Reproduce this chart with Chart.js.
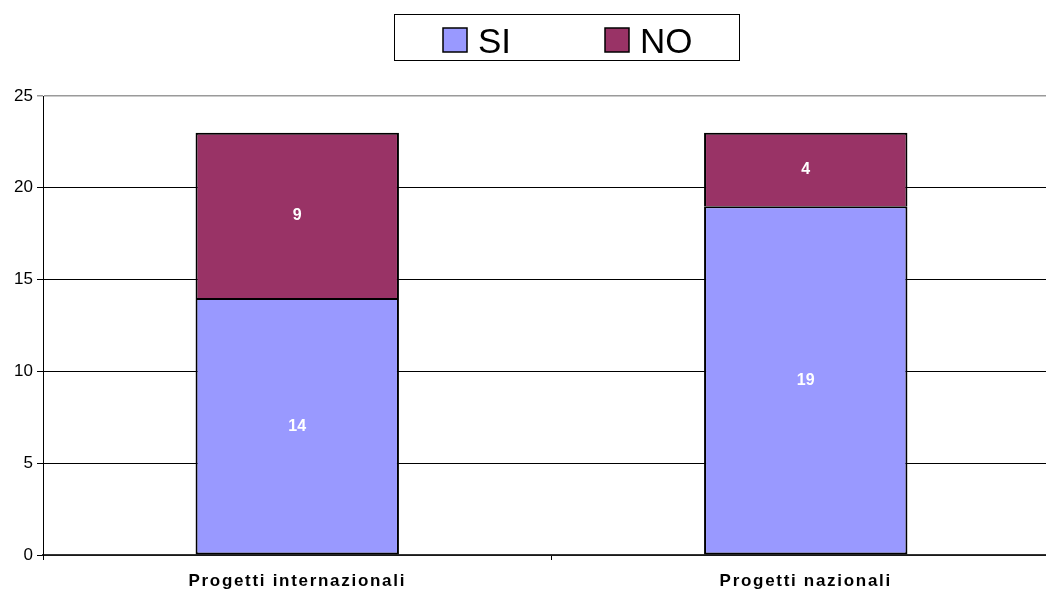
<!DOCTYPE html>
<html>
<head>
<meta charset="utf-8">
<script src="https://cdn.jsdelivr.net/npm/chart.js@4.4.1/dist/chart.umd.min.js"></script>
<style>
  html, body { margin: 0; padding: 0; background: #fff; overflow: hidden; }
  #wrap { width: 1060px; height: 590px; position: relative; }
</style>
</head>
<body>
<div id="wrap"><canvas id="c"></canvas></div>
<script>
// Project categories and answers
const categories = ['Progetti internazionali', 'Progetti nazionali'];
const siValues = [14, 19];
const noValues = [9, 4];
const seriesNames = ['SI', 'NO'];
const yTicks = [0, 5, 10, 15, 20, 25];

const SI_COLOR = '#9999FF';
const NO_COLOR = '#993366';

// White value labels centred inside each stacked segment
const segmentLabels = {
  id: 'segmentLabels',
  afterDatasetsDraw(chart) {
    const ctx = chart.ctx;
    ctx.save();
    ctx.fillStyle = '#ffffff';
    ctx.font = 'bold 16px "Liberation Sans", Arial, sans-serif';
    ctx.textAlign = 'center';
    ctx.textBaseline = 'middle';
    chart.data.datasets.forEach((ds, di) => {
      chart.getDatasetMeta(di).data.forEach((bar, i) => {
        const p = bar.getProps(['x', 'y', 'base'], true);
        ctx.fillText(String(ds.data[i]), p.x, (p.y + p.base) / 2);
      });
    });
    ctx.restore();
  }
};

// Framed legend above the plot
const boxedLegend = {
  id: 'boxedLegend',
  afterDraw(chart) {
    const ctx = chart.ctx;
    ctx.save();
    ctx.strokeStyle = '#000';
    ctx.lineWidth = 1;
    ctx.strokeRect(394.5, 14.5, 345, 46);
    const items = [
      { sx: 443, tx: 478 },
      { sx: 605, tx: 640 }
    ];
    ctx.font = '35px "Liberation Sans", Arial, sans-serif';
    ctx.textBaseline = 'alphabetic';
    ctx.textAlign = 'left';
    chart.data.datasets.forEach((ds, i) => {
      const it = items[i];
      ctx.fillStyle = ds.backgroundColor;
      ctx.fillRect(it.sx, 28, 24, 24);
      ctx.lineWidth = 1.5;
      ctx.strokeStyle = '#000';
      ctx.strokeRect(it.sx, 28, 24, 24);
      ctx.fillStyle = '#000';
      ctx.fillText(ds.label, it.tx, 52.5);
    });
    ctx.restore();
  }
};

// Slightly spaced lettering for the category labels
const spacedCategoryLabels = {
  id: 'spacedCategoryLabels',
  afterLayout(chart) {
    const s = chart.scales.x;
    if (s && !s._spaced) {
      const orig = s.drawLabels.bind(s);
      s.drawLabels = function (area) {
        const c = this.ctx;
        c.save();
        c.letterSpacing = '1.7px';
        orig(area);
        c.restore();
      };
      s._spaced = true;
    }
  }
};

new Chart(document.getElementById('c'), {
  type: 'bar',
  data: {
    labels: categories,
    datasets: [
      { label: seriesNames[0], data: siValues, backgroundColor: SI_COLOR, borderColor: '#000', borderWidth: 2, borderSkipped: false },
      { label: seriesNames[1], data: noValues, backgroundColor: NO_COLOR, borderColor: '#000', borderWidth: 2, borderSkipped: 'bottom' }
    ]
  },
  options: {
    responsive: true,
    maintainAspectRatio: false,
    animation: false,
    devicePixelRatio: 1,
    layout: { padding: { top: 96, right: 0, left: 0, bottom: 0 } },
    datasets: { bar: { categoryPercentage: 1, barPercentage: 0.4 } },
    plugins: {
      legend: { display: false },
      tooltip: { enabled: false }
    },
    scales: {
      x: {
        stacked: true,
        offset: true,
        grid: { offset: true, drawOnChartArea: false, color: '#000', tickLength: 5 },
        border: { color: '#333', width: 1.5 },
        ticks: {
          color: '#000',
          font: { family: '"Liberation Sans", Arial, sans-serif', size: 17, weight: 'bold' },
          padding: 11,
          maxRotation: 0
        },
        afterFit(s) { s.height = 35; }
      },
      y: {
        stacked: true,
        min: 0,
        max: 25,
        afterBuildTicks(s) { s.ticks = yTicks.map(v => ({ value: v })); },
        grid: {
          color: ctx => (ctx.tick && ctx.tick.value === 25 ? '#9a9a9a' : '#000'),
          lineWidth: ctx => (ctx.tick && ctx.tick.value === 25 ? 1.5 : 1),
          tickLength: 6
        },
        border: { color: '#000', width: 1 },
        ticks: {
          color: '#000',
          font: { family: '"Liberation Sans", Arial, sans-serif', size: 17 },
          padding: 4
        },
        afterFit(s) { s.width = 43; }
      }
    }
  },
  plugins: [segmentLabels, boxedLegend, spacedCategoryLabels]
});
</script>
</body>
</html>
